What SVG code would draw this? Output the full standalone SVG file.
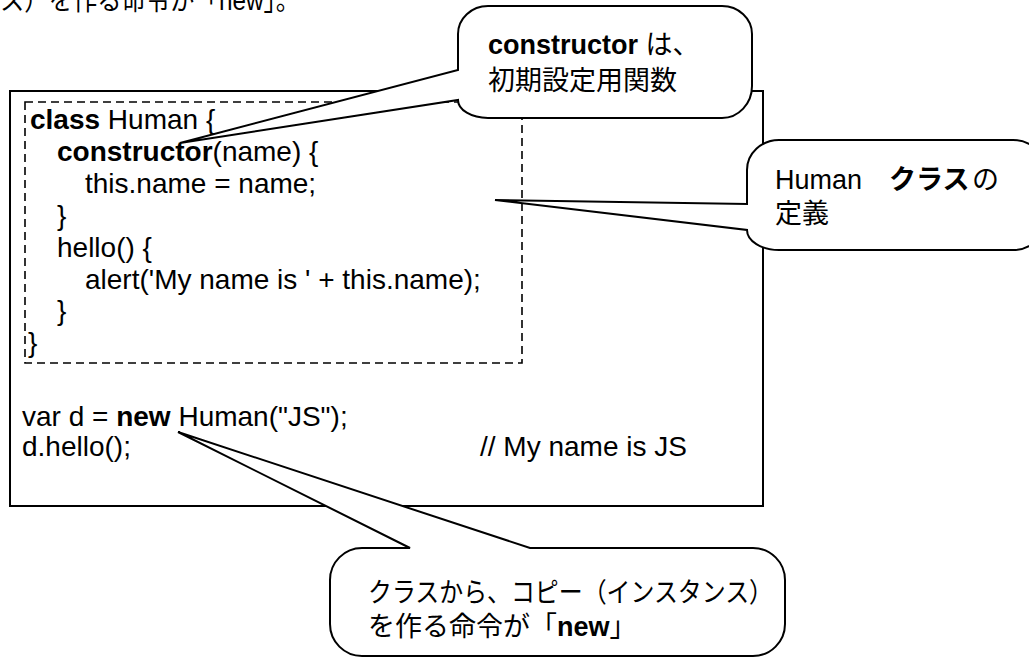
<svg xmlns="http://www.w3.org/2000/svg" width="1029" height="657" viewBox="0 0 1029 657">
<style>
text{font-family:"Liberation Sans","Noto Sans CJK JP",sans-serif;fill:#000}
.code{font-size:28px}
.jp{font-size:27px}
.b{font-weight:bold}
.frame{fill:none;stroke:#000;stroke-width:2}
.dash{fill:none;stroke:#000;stroke-width:1.6;stroke-dasharray:8 5}
.callout{fill:#fff;stroke:#000;stroke-width:2;stroke-linejoin:miter}
</style>
<rect width="1029" height="657" fill="#fff"/>
<text id="top-text" class="jp" x="0" y="10" textLength="300" lengthAdjust="spacingAndGlyphs">ス）を作る命令が「new」。</text>
<g id="code-box">
<rect class="frame" x="10" y="91" width="753" height="415"/>
</g>
<g id="class-def">
<rect class="dash" x="25" y="102" width="497" height="261"/>
<text class="code" x="30" y="129"><tspan class="b">class</tspan> Human {</text>
<text class="code" x="57" y="161"><tspan class="b">constructor</tspan>(name) {</text>
<text class="code" x="85" y="193">this.name = name;</text>
<text class="code" x="57" y="225">}</text>
<text class="code" x="57" y="257">hello() {</text>
<text class="code" x="85" y="289">alert('My name is ' + this.name);</text>
<text class="code" x="57" y="320">}</text>
<text class="code" x="28" y="352">}</text>
</g>
<g id="usage">
<text class="code" x="22" y="426">var d = <tspan class="b">new</tspan> Human("JS");</text>
<text class="code" x="22" y="456">d.hello();</text>
<text class="code" x="480" y="456">// My name is JS</text>
</g>
<g id="connectors">
<path id="callout-constructor" class="callout" d="M488,6 H722 A30 28 0 0 1 752,34 V86 A30 32 0 0 1 722,118 H488 A30 18 0 0 1 458,100 L180,143 L458,70 V34 A30 28 0 0 1 488,6 Z"/>
<path id="callout-human" class="callout" d="M747,170 A32 30 0 0 1 779,140 H1013 A32 30 0 0 1 1045,170 V220 A32 30 0 0 1 1013,250 H779 A32 20 0 0 1 747,230 L495,200 L747,204 Z"/>
<path id="callout-new" class="callout" d="M330,580 A32 32 0 0 1 362,548 H410 L178,432 L530,548 H753 A32 32 0 0 1 785,580 V624 A32 32 0 0 1 753,656 H362 A32 32 0 0 1 330,624 Z"/>
</g>
<g id="note-constructor">
<text class="jp" x="488" y="54"><tspan class="b">constructor</tspan> は、</text>
<text class="jp" x="488" y="90">初期設定用関数</text>
</g>
<g id="note-human">
<text class="jp" x="775" y="189">Human<tspan class="b" x="889">クラス</tspan><tspan x="972">の</tspan></text>
<text class="jp" x="775" y="223">定義</text>
</g>
<g id="note-new">
<text class="jp" x="368" y="602" font-size="26" textLength="405" lengthAdjust="spacingAndGlyphs">クラスから、コピー（インスタンス）</text>
<text class="jp" x="368" y="636" font-size="26">を作る命令が「<tspan class="b">new</tspan>」</text>
</g>
</svg>
